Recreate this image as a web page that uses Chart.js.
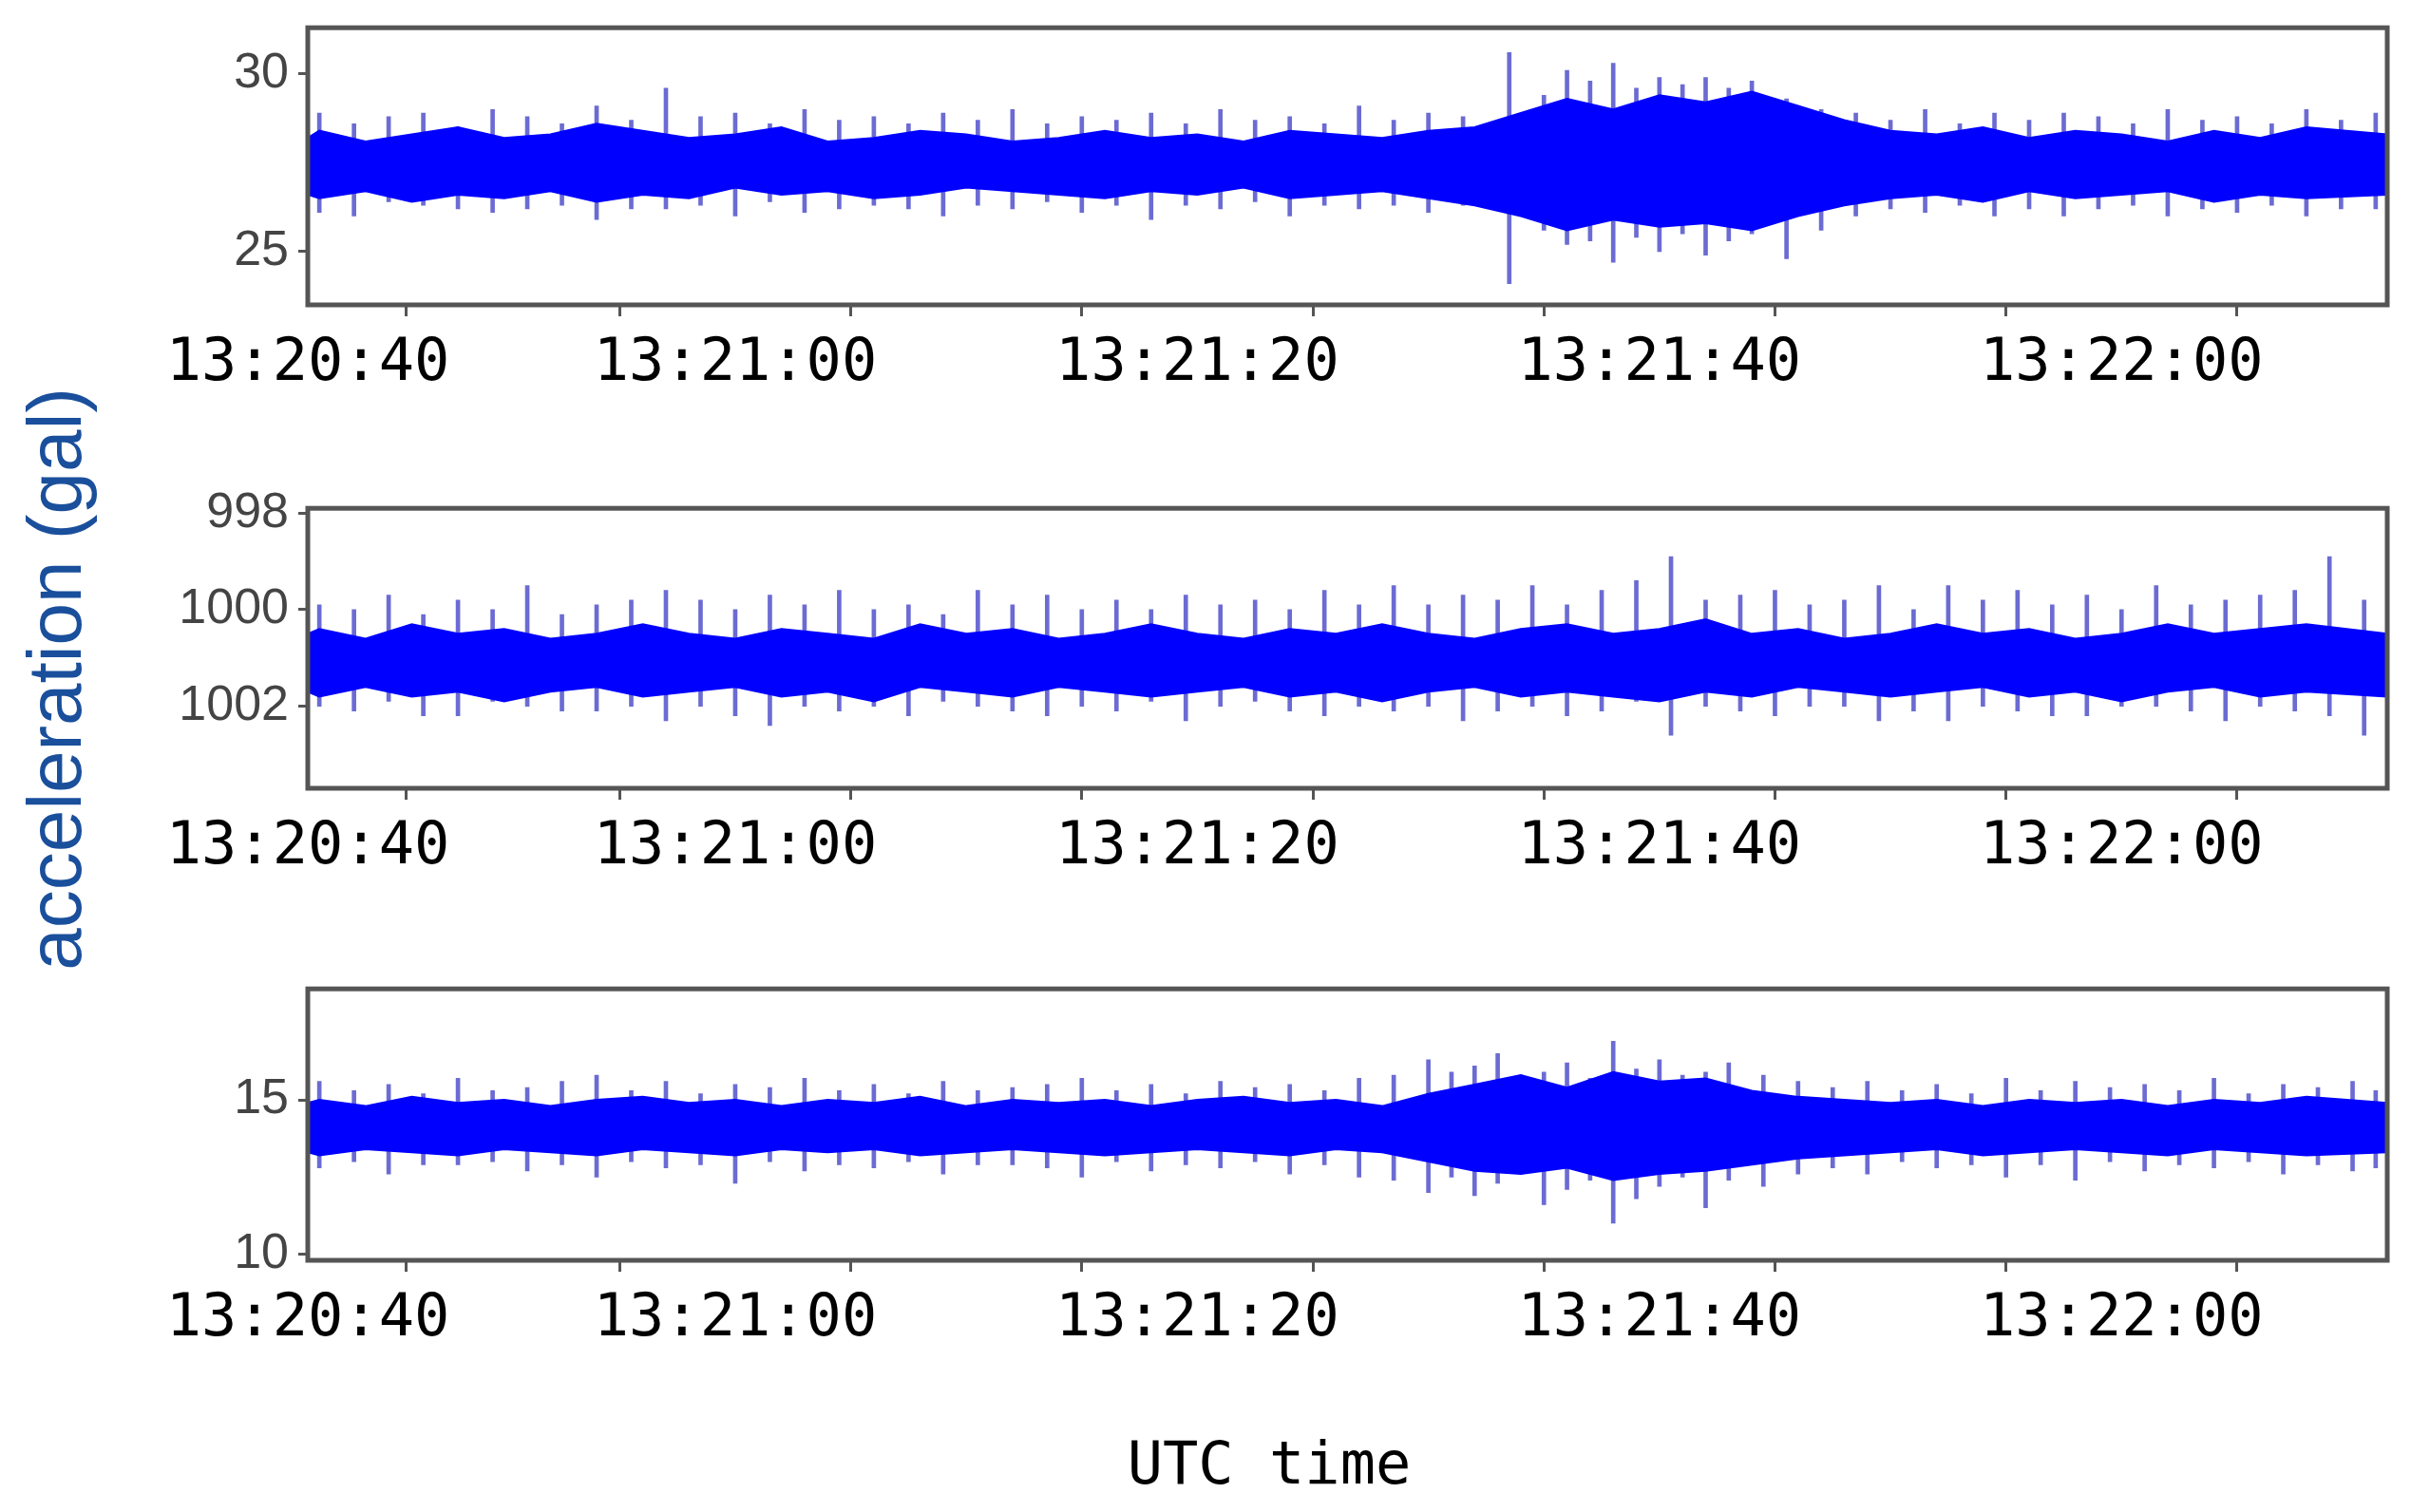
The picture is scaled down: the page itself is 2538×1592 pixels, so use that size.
<!DOCTYPE html>
<html>
<head>
<meta charset="utf-8">
<script src="https://cdn.jsdelivr.net/npm/chart.js@4.4.0/dist/chart.umd.min.js"></script>
<style>
  body { margin: 0; background: #fff; width: 2538px; height: 1592px; position: relative; overflow: hidden; }
  .pan { position: absolute; left: 120px; width: 2418px; }
  #ylab { position: absolute; left: 58px; top: 715px; transform: translate(-50%, -50%) rotate(-90deg);
          font: 80px "Liberation Sans", Arial, sans-serif; color: #1a4f9c; white-space: nowrap; }
  #xlab { position: absolute; left: 1336px; top: 1540px; transform: translate(-50%, -50%);
          font: 62px "DejaVu Sans Mono", monospace; color: #000; white-space: nowrap; }
</style>
</head>
<body>
<div class="pan" style="top:-12px;height:443px"><canvas id="c1"></canvas></div>
<div class="pan" style="top:494px;height:446px"><canvas id="c2"></canvas></div>
<div class="pan" style="top:1000px;height:437px"><canvas id="c3"></canvas></div>
<div id="ylab">acceleration (gal)</div>
<div id="xlab">UTC time</div>
<script>
// seconds after 13:20:40, core band sampled every 2 s
const bandTimes = [1.5,2,4,6,8,10,12,14,16,18,20,22,24,26,28,30,32,34,36,38,40,42,44,46,48,50,52,54,56,58,60,62,64,66,68,70,72,74,76,78,80,82,84,86,88,91.5];

const topHi = [28.2,28.4,28.1,28.3,28.5,28.2,28.3,28.6,28.4,28.2,28.3,28.5,28.1,28.2,28.4,28.3,28.1,28.2,28.4,28.2,28.3,28.1,28.4,28.3,28.2,28.4,28.5,28.9,29.3,29.0,29.4,29.2,29.5,29.1,28.7,28.4,28.3,28.5,28.2,28.4,28.3,28.1,28.4,28.2,28.5,28.3];
const topLo = [26.6,26.5,26.7,26.4,26.6,26.5,26.7,26.4,26.6,26.5,26.8,26.6,26.7,26.5,26.6,26.8,26.7,26.6,26.5,26.7,26.6,26.8,26.5,26.6,26.7,26.5,26.3,26.0,25.6,25.9,25.7,25.8,25.6,26.0,26.3,26.5,26.6,26.4,26.7,26.5,26.6,26.7,26.4,26.6,26.5,26.6];
const topSpikes = [[2,26.1,28.9],[3.5,26.0,28.6],[5,26.4,28.8],[6.5,26.3,28.9],[8,26.2,28.5],[9.5,26.1,29.0],[11,26.2,28.8],[12.5,26.3,28.6],[14,25.9,29.1],[15.5,26.2,28.7],[17,26.2,29.6],[18.5,26.3,28.8],[20,26.0,28.9],[21.5,26.4,28.6],[23,26.1,29.0],[24.5,26.2,28.7],[26,26.3,28.8],[27.5,26.2,28.6],[29,26.0,28.9],[30.5,26.3,28.7],[32,26.2,29.0],[33.5,26.4,28.6],[35,26.1,28.8],[36.5,26.3,28.7],[38,25.9,28.9],[39.5,26.3,28.6],[41,26.2,29.0],[42.5,26.4,28.7],[44,26.0,28.8],[45.5,26.3,28.6],[47,26.2,29.1],[48.5,26.3,28.7],[50,26.1,28.9],[51.5,26.3,28.8],[53.5,24.1,30.6],[55,25.6,29.4],[56,25.2,30.1],[57,25.3,29.8],[58,24.7,30.3],[59,25.4,29.6],[60,25.0,29.9],[61,25.5,29.7],[62,24.9,29.9],[63,25.3,29.6],[64,25.5,29.8],[65.5,24.8,29.3],[67,25.6,29.0],[68.5,26.0,28.9],[70,26.2,28.7],[71.5,26.1,29.0],[73,26.3,28.6],[74.5,26.0,28.9],[76,26.2,28.7],[77.5,26.0,28.9],[79,26.2,28.8],[80.5,26.3,28.6],[82,26.0,29.0],[83.5,26.2,28.7],[85,26.1,28.8],[86.5,26.3,28.6],[88,26.0,29.0],[89.5,26.2,28.7],[91,26.2,28.9]];

const midHi = [1000.5,1000.4,1000.6,1000.3,1000.5,1000.4,1000.6,1000.5,1000.3,1000.5,1000.6,1000.4,1000.5,1000.6,1000.3,1000.5,1000.4,1000.6,1000.5,1000.3,1000.5,1000.6,1000.4,1000.5,1000.3,1000.5,1000.6,1000.4,1000.3,1000.5,1000.4,1000.2,1000.5,1000.4,1000.6,1000.5,1000.3,1000.5,1000.4,1000.6,1000.5,1000.3,1000.5,1000.4,1000.3,1000.5];
const midLo = [1001.7,1001.8,1001.6,1001.8,1001.7,1001.9,1001.7,1001.6,1001.8,1001.7,1001.6,1001.8,1001.7,1001.9,1001.6,1001.7,1001.8,1001.6,1001.7,1001.8,1001.7,1001.6,1001.8,1001.7,1001.9,1001.7,1001.6,1001.8,1001.7,1001.8,1001.9,1001.7,1001.8,1001.6,1001.7,1001.8,1001.7,1001.6,1001.8,1001.7,1001.9,1001.7,1001.6,1001.8,1001.7,1001.8];
const midSpikes = [[2,1002.0,999.9],[3.5,1002.1,1000.0],[5,1001.9,999.7],[6.5,1002.2,1000.1],[8,1002.2,999.8],[9.5,1001.9,1000.0],[11,1002.0,999.5],[12.5,1002.1,1000.1],[14,1002.1,999.9],[15.5,1002.0,999.8],[17,1002.3,999.6],[18.5,1002.0,999.8],[20,1002.2,1000.0],[21.5,1002.4,999.7],[23,1002.0,999.9],[24.5,1002.1,999.6],[26,1002.0,1000.0],[27.5,1002.2,999.9],[29,1001.9,1000.1],[30.5,1002.0,999.6],[32,1002.1,999.9],[33.5,1002.2,999.7],[35,1002.0,1000.0],[36.5,1002.1,999.8],[38,1001.9,1000.0],[39.5,1002.3,999.7],[41,1002.0,999.9],[42.5,1001.9,999.8],[44,1002.1,1000.0],[45.5,1002.2,999.6],[47,1002.0,999.9],[48.5,1002.1,999.5],[50,1002.0,999.9],[51.5,1002.3,999.7],[53,1002.1,999.8],[54.5,1002.0,999.5],[56,1002.2,999.9],[57.5,1002.1,999.6],[59,1001.9,999.4],[60.5,1002.6,998.9],[62,1002.0,999.8],[63.5,1002.1,999.7],[65,1002.2,999.6],[66.5,1002.0,999.9],[68,1002.0,999.8],[69.5,1002.3,999.5],[71,1002.1,1000.0],[72.5,1002.3,999.5],[74,1002.0,999.8],[75.5,1002.1,999.6],[77,1002.2,999.9],[78.5,1002.2,999.7],[80,1002.0,1000.0],[81.5,1002.0,999.5],[83,1002.1,999.9],[84.5,1002.3,999.8],[86,1002.0,999.7],[87.5,1002.1,999.6],[89,1002.2,998.9],[90.5,1002.6,999.8]];

const botHi = [14.9,15.0,14.8,15.1,14.9,15.0,14.8,15.0,15.1,14.9,15.0,14.8,15.0,14.9,15.1,14.8,15.0,14.9,15.0,14.8,15.0,15.1,14.9,15.0,14.8,15.2,15.5,15.8,15.4,15.9,15.6,15.7,15.3,15.1,15.0,14.9,15.0,14.8,15.0,14.9,15.0,14.8,15.0,14.9,15.1,14.9];
const botLo = [13.3,13.2,13.4,13.3,13.2,13.4,13.3,13.2,13.4,13.3,13.2,13.4,13.3,13.4,13.2,13.3,13.4,13.3,13.2,13.3,13.4,13.3,13.2,13.4,13.3,13.0,12.7,12.6,12.8,12.4,12.6,12.7,12.9,13.1,13.2,13.3,13.4,13.2,13.3,13.4,13.3,13.2,13.4,13.3,13.2,13.3];
const botSpikes = [[2,12.8,15.6],[3.5,13.0,15.3],[5,12.6,15.5],[6.5,12.9,15.2],[8,12.9,15.7],[9.5,13.0,15.3],[11,12.7,15.4],[12.5,12.9,15.6],[14,12.5,15.8],[15.5,13.0,15.3],[17,12.8,15.6],[18.5,12.9,15.2],[20,12.3,15.5],[21.5,13.0,15.4],[23,12.7,15.7],[24.5,12.9,15.3],[26,12.8,15.5],[27.5,13.0,15.2],[29,12.6,15.6],[30.5,12.9,15.3],[32,12.9,15.4],[33.5,12.8,15.5],[35,12.5,15.7],[36.5,13.0,15.3],[38,12.7,15.5],[39.5,12.9,15.2],[41,12.8,15.6],[42.5,13.0,15.4],[44,12.6,15.5],[45.5,12.9,15.3],[47,12.5,15.7],[48.5,12.4,15.8],[50,12.0,16.3],[51,12.5,15.9],[52,11.9,16.1],[53,12.3,16.5],[54,12.6,15.8],[55,11.6,15.9],[56,12.1,16.2],[57,12.4,15.7],[58,11.0,16.9],[59,11.8,16.0],[60,12.2,16.3],[61,12.5,15.8],[62,11.5,15.9],[63,12.4,16.2],[64.5,12.2,15.8],[66,12.6,15.6],[67.5,12.8,15.4],[69,12.6,15.6],[70.5,13.0,15.3],[72,12.8,15.5],[73.5,12.9,15.2],[75,12.5,15.7],[76.5,12.9,15.3],[78,12.4,15.6],[79.5,13.0,15.4],[81,12.7,15.5],[82.5,12.9,15.3],[84,12.8,15.7],[85.5,13.0,15.2],[87,12.6,15.5],[88.5,12.9,15.4],[90,12.7,15.6],[91,12.8,15.3]];

const tickTimes = [1.5,10,20,30,40,50,60,70,80,90];
const tickLabels = { 1.5: '13:20:40', 20: '13:21:00', 40: '13:21:20', 60: '13:21:40', 80: '13:22:00' };

const frame = {
  id: 'frame',
  afterDraw(chart) {
    const a = chart.chartArea, ctx = chart.ctx;
    ctx.save();
    ctx.strokeStyle = '#555';
    ctx.lineWidth = 5;
    ctx.strokeRect(a.left, a.top, a.right - a.left, a.bottom - a.top);
    ctx.restore();
  }
};

function makePanel(id, hi, lo, spikes, ymin, ymax, yticks, reverse) {
  const pts = arr => bandTimes.map((t, i) => ({ x: t, y: arr[i] }));
  new Chart(document.getElementById(id), {
    data: {
      datasets: [
        { type: 'line', data: pts(hi), borderColor: '#0000ff', borderWidth: 2, pointRadius: 0, tension: 0, fill: false },
        { type: 'line', data: pts(lo), borderColor: '#0000ff', borderWidth: 2, pointRadius: 0, tension: 0, fill: '-1', backgroundColor: '#0000ff' },
        { type: 'bar', data: spikes.map(s => ({ x: s[0], y: [s[1], s[2]] })), backgroundColor: 'rgba(70,70,200,0.8)', barThickness: 4 }
      ]
    },
    options: {
      responsive: true, maintainAspectRatio: false, animation: false,
      layout: { padding: { top: 36, right: 25 } },
      plugins: { legend: { display: false }, tooltip: { enabled: false } },
      scales: {
        x: {
          type: 'linear', min: 1.5, max: 91.5, offset: false,
          afterBuildTicks: s => { s.ticks = tickTimes.map(v => ({ value: v })); },
          afterFit: s => { s.height = 110; },
          grid: { drawOnChartArea: false, color: '#555', lineWidth: 3, tickLength: 12 },
          border: { display: false },
          ticks: { autoSkip: false, maxRotation: 0, padding: 14, color: '#000',
                   font: { family: 'DejaVu Sans Mono', size: 62 },
                   callback: v => tickLabels[v] || '' }
        },
        y: {
          min: ymin, max: ymax, reverse: reverse,
          afterBuildTicks: s => { s.ticks = yticks.map(v => ({ value: v })); },
          afterFit: s => { s.width = 204; },
          grid: { drawOnChartArea: false, color: '#555', lineWidth: 3, tickLength: 10 },
          border: { display: false },
          ticks: { padding: 10, color: '#444', font: { family: 'Liberation Sans', size: 52 },
                   callback: v => String(v) }
        }
      }
    },
    plugins: [frame]
  });
}

makePanel('c1', topHi, topLo, topSpikes, 23.5, 31.3, [25, 30], false);
makePanel('c2', midHi, midLo, midSpikes, 997.9, 1003.7, [998, 1000, 1002], true);
makePanel('c3', botHi, botLo, botSpikes, 9.8, 18.6, [10, 15], false);
</script>
</body>
</html>
